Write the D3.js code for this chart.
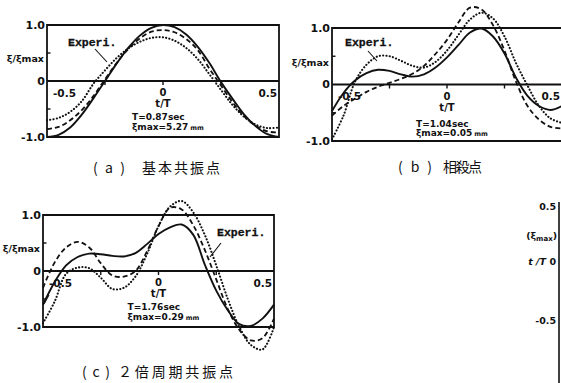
<!DOCTYPE html>
<html>
<head>
<meta charset="utf-8">
<script src="https://cdn.jsdelivr.net/npm/d3@7/dist/d3.min.js"></script>
<style>
  html, body { margin: 0; padding: 0; background: #fff; }
  svg { display: block; }
  .lab { font-family: "DejaVu Sans", sans-serif; font-weight: bold; fill: #111; }
  .exp { font-family: "Liberation Mono", "DejaVu Sans Mono", monospace; font-weight: bold; fill: #111; stroke: #111; stroke-width: 0.3; }
  .cap { font-family: "Noto Sans CJK JP", sans-serif; fill: #111; }
</style>
</head>
<body>
<svg id="chart" width="561" height="383"></svg>
<script>
// Normalised time t/T, sampled every 0.05 period
const tValues = [-0.5, -0.45, -0.4, -0.35, -0.3, -0.25, -0.2, -0.15, -0.1, -0.05,
                 0, 0.05, 0.1, 0.15, 0.2, 0.25, 0.3, 0.35, 0.4, 0.45, 0.5];

// (a) fundamental resonance, T = 0.87 s
const aSolid  = [-1.0, -0.96, -0.83, -0.6, -0.31, 0.0, 0.31, 0.59, 0.81, 0.95, 1.0,
                 0.96, 0.83, 0.61, 0.32, -0.02, -0.32, -0.6, -0.81, -0.95, -1.0];
const aDashed = [-0.86, -0.82, -0.7, -0.52, -0.27, 0.03, 0.32, 0.57, 0.76, 0.88, 0.91,
                 0.87, 0.75, 0.55, 0.22, -0.08, -0.38, -0.63, -0.8, -0.9, -0.92];
const aDotted = [-0.7, -0.66, -0.55, -0.36, -0.05, 0.19, 0.41, 0.58, 0.7, 0.77, 0.78,
                 0.72, 0.59, 0.39, 0.12, -0.16, -0.43, -0.64, -0.78, -0.84, -0.83];

// (b) cancellation point, T = 1.04 s
const bSolid  = [-0.47, -0.15, 0.07, 0.2, 0.26, 0.24, 0.18, 0.14, 0.18, 0.3, 0.48,
                 0.7, 0.92, 0.99, 0.85, 0.55, 0.12, -0.2, -0.38, -0.45, -0.38];
const bDashed = [-0.55, -0.38, -0.25, -0.13, -0.04, 0.03, 0.1, 0.19, 0.33, 0.54, 0.79,
                 1.1, 1.36, 1.33, 1.05, 0.6, 0.05, -0.38, -0.62, -0.75, -0.78];
const bDotted = [-0.97, -0.55, 0.05, 0.35, 0.5, 0.5, 0.42, 0.33, 0.3, 0.4, 0.6,
                 0.88, 1.15, 1.27, 1.17, 0.85, 0.38, -0.02, -0.38, -0.6, -0.68];

// (c) double-period resonance, T = 1.76 s
const cSolid  = [-0.6, -0.2, 0.1, 0.25, 0.31, 0.3, 0.27, 0.26, 0.32, 0.48, 0.66,
                 0.78, 0.83, 0.65, 0.12, -0.35, -0.7, -0.95, -0.98, -0.85, -0.6];
const cDashed = [-0.3, 0.15, 0.42, 0.52, 0.42, 0.14, -0.08, -0.1, 0.0, 0.35, 0.8,
                 1.13, 1.1, 0.82, 0.38, -0.15, -0.68, -1.05, -1.24, -1.2, -0.85];
const cDotted = [-0.93, -0.55, -0.05, 0.06, 0.05, -0.12, -0.32, -0.3, -0.1, 0.3, 0.8,
                 1.15, 1.25, 1.05, 0.65, 0.1, -0.5, -1.0, -1.32, -1.4, -1.0];

// Axis tick labels
const yTickLabels = ["1.0", "0", "-1.0"];
const yTickValues = [1, 0, -1];
const xTickLabels = ["-0.5", "0", "0.5"];
const xMinorTicks = [-0.25, 0, 0.25];
const yMinorTicks = [0.5, -0.5];

const yTitle = "ξ/ξmax";
const xTitle = "t/T";
const expLabel = "Experi.";

const periods = ["T=0.87sec", "T=1.04sec", "T=1.76sec"];
const amplitudes = ["ξmax=5.27", "ξmax=0.05", "ξmax=0.29"];
const captionTags = ["( a )", "( b )", "( c )"];
const captionTexts = ["基本共振点", "相殺点", "２倍周期共振点"];

// Side scale of the fourth panel
const dLabels = ["0.5", "-0.5"];

const svg = d3.select("#chart");

const panels = [
  { left: 47, right: 279, top: 25, bottom: 137, series: [aSolid, aDashed, aDotted],
    noteDy: [36, 46], exp: [68, 42], leader: [[95, 49], [107, 62]],
    cap: { x: 93, y: 168, tagW: 32, gap: 17, textW: 78 } },
  { left: 332, right: 562, top: 28, bottom: 141, series: [bSolid, bDashed, bDotted],
    noteDy: [39.5, 48.5], exp: [345, 42], leader: [[368, 51], [377, 61]],
    cap: { x: 398, y: 167, tagW: 34, gap: 11, textW: 39 } },
  { left: 43, right: 274, top: 215, bottom: 327, series: [cSolid, cDashed, cDotted],
    noteDy: [36, 46], exp: [217, 232], leader: [[221, 243], [210, 257]],
    cap: { x: 82, y: 372, tagW: 28, gap: 8, textW: 115 } }
];

const styles = [
  { width: 1.9, dash: null, cap: "butt" },
  { width: 1.8, dash: "5,3", cap: "butt" },
  { width: 2.1, dash: "0.1,3.2", cap: "round" }
];

panels.forEach((p, i) => {
  const x = d3.scaleLinear().domain([-0.5, 0.5]).range([p.left, p.right]);
  const y = d3.scaleLinear().domain([-1, 1]).range([p.bottom, p.top]);
  const g = svg.append("g");

  // Frame: top and bottom rules, left axis, right edge, zero line
  const fr = g.append("g").attr("stroke", "#111").attr("stroke-width", 1.8).attr("fill", "none");
  fr.append("line").attr("x1", x(-0.5)).attr("x2", x(0.5)).attr("y1", y(1)).attr("y2", y(1));
  fr.append("line").attr("x1", x(-0.5)).attr("x2", x(0.5)).attr("y1", y(-1)).attr("y2", y(-1));
  fr.append("line").attr("x1", x(-0.5)).attr("x2", x(0.5)).attr("y1", y(0)).attr("y2", y(0));
  fr.append("line").attr("x1", x(-0.5)).attr("x2", x(-0.5)).attr("y1", y(1) - 1).attr("y2", y(-1) + 1);
  fr.append("line").attr("x1", x(0.5)).attr("x2", x(0.5)).attr("y1", y(1) - 1).attr("y2", y(-1) + 1);

  // Minor ticks
  const tk = g.append("g").attr("stroke", "#111").attr("stroke-width", 1.4);
  xMinorTicks.forEach(v => {
    tk.append("line").attr("x1", x(v)).attr("x2", x(v)).attr("y1", y(0)).attr("y2", y(0) + 4);
  });
  yMinorTicks.forEach(v => {
    tk.append("line").attr("x1", x(-0.5)).attr("x2", x(-0.5) + 3.5).attr("y1", y(v)).attr("y2", y(v));
  });

  // Y tick labels outside the frame
  yTickValues.forEach((v, k) => {
    g.append("text").attr("class", "lab").attr("font-size", 11)
      .attr("x", x(-0.5) - 2).attr("y", y(v)).attr("dy", "0.36em")
      .attr("text-anchor", "end").text(yTickLabels[k]);
  });
  g.append("text").attr("class", "lab").attr("font-size", 9.5)
    .attr("x", x(-0.5) - 3).attr("y", y(0) - 22).attr("dy", "0.36em")
    .attr("text-anchor", "end").text(yTitle);

  // X tick labels inside the frame, below the zero line
  const xl = y(0) + 12;
  g.append("text").attr("class", "lab").attr("font-size", 10.5)
    .attr("x", x(-0.5) + 6).attr("y", xl).attr("dy", "0.36em").text(xTickLabels[0]);
  g.append("text").attr("class", "lab").attr("font-size", 10).attr("text-anchor", "middle")
    .attr("x", x(0)).attr("y", xl - 0.5).attr("dy", "0.36em").text(xTickLabels[1]);
  g.append("text").attr("class", "lab").attr("font-size", 10.5).attr("text-anchor", "end")
    .attr("x", x(0.5) - 2).attr("y", xl).attr("dy", "0.36em").text(xTickLabels[2]);
  g.append("text").attr("class", "lab").attr("font-size", 10).attr("text-anchor", "middle")
    .attr("x", x(0)).attr("y", y(0) + 22.5).attr("dy", "0.36em").text(xTitle);

  // Period and amplitude notes
  g.append("text").attr("class", "lab").attr("font-size", 9)
    .attr("x", x(0) - 31).attr("y", y(0) + p.noteDy[0]).attr("dy", "0.36em").text(periods[i]);
  const am = g.append("text").attr("class", "lab").attr("font-size", 9)
    .attr("x", x(0) - 31).attr("y", y(0) + p.noteDy[1]).attr("dy", "0.36em");
  am.append("tspan").text(amplitudes[i]);
  am.append("tspan").attr("font-size", 6.5).attr("dx", 2).text("mm");

  // Response curves
  const line = d3.line().x((d, k) => x(tValues[k])).y(d => y(d)).curve(d3.curveCatmullRom.alpha(0.5));
  p.series.forEach((s, k) => {
    const st = styles[k];
    g.append("path").datum(s).attr("d", line)
      .attr("fill", "none").attr("stroke", "#111")
      .attr("stroke-width", st.width).attr("stroke-linecap", st.cap)
      .attr("stroke-dasharray", st.dash);
  });

  // "Experi." annotation with leader
  g.append("text").attr("class", "exp").attr("font-size", 11.5)
    .attr("x", p.exp[0]).attr("y", p.exp[1]).attr("dy", "0.36em").text(expLabel);
  g.append("line").attr("stroke", "#111").attr("stroke-width", 1.1)
    .attr("x1", p.leader[0][0]).attr("y1", p.leader[0][1])
    .attr("x2", p.leader[1][0]).attr("y2", p.leader[1][1]);

  // Caption
  svg.append("text").attr("class", "cap").attr("font-size", 14)
    .attr("x", p.cap.x).attr("y", p.cap.y).attr("dy", "0.36em")
    .attr("textLength", p.cap.tagW).attr("lengthAdjust", "spacing").text(captionTags[i]);
  svg.append("text").attr("class", "cap").attr("font-size", 14)
    .attr("x", p.cap.x + p.cap.tagW + p.cap.gap).attr("y", p.cap.y).attr("dy", "0.36em")
    .attr("textLength", p.cap.textW).attr("lengthAdjust", "spacing").text(captionTexts[i]);
});

// Second leader at the left end of panel (c)
svg.append("line").attr("stroke", "#111").attr("stroke-width", 1.1)
  .attr("x1", 49).attr("y1", 295).attr("x2", 44).attr("y2", 304);

// Fourth panel, only its right-hand scale is in view
const dg = svg.append("g");
dg.append("line").attr("stroke", "#111").attr("stroke-width", 1.6)
  .attr("x1", 559).attr("x2", 559).attr("y1", 202).attr("y2", 383);
dg.append("text").attr("class", "lab").attr("font-size", 9.5).attr("text-anchor", "end")
  .attr("x", 556).attr("y", 207).attr("dy", "0.36em").text(dLabels[0]);
const dm = dg.append("text").attr("class", "lab").attr("font-size", 9.5).attr("text-anchor", "end")
  .attr("x", 557).attr("y", 236).attr("dy", "0.36em");
dm.append("tspan").text("(ξ");
dm.append("tspan").attr("font-size", 7).attr("dy", 2).text("max");
dm.append("tspan").attr("dy", -2).text(")");
const dt = dg.append("text").attr("class", "lab").attr("font-size", 9.5).attr("text-anchor", "end")
  .attr("x", 556).attr("y", 262).attr("dy", "0.36em");
dt.append("tspan").attr("font-style", "italic").text("t /T ");
dt.append("tspan").text("0");
dg.append("text").attr("class", "lab").attr("font-size", 9.5).attr("text-anchor", "end")
  .attr("x", 556).attr("y", 321).attr("dy", "0.36em").text(dLabels[1]);
</script>
</body>
</html>
